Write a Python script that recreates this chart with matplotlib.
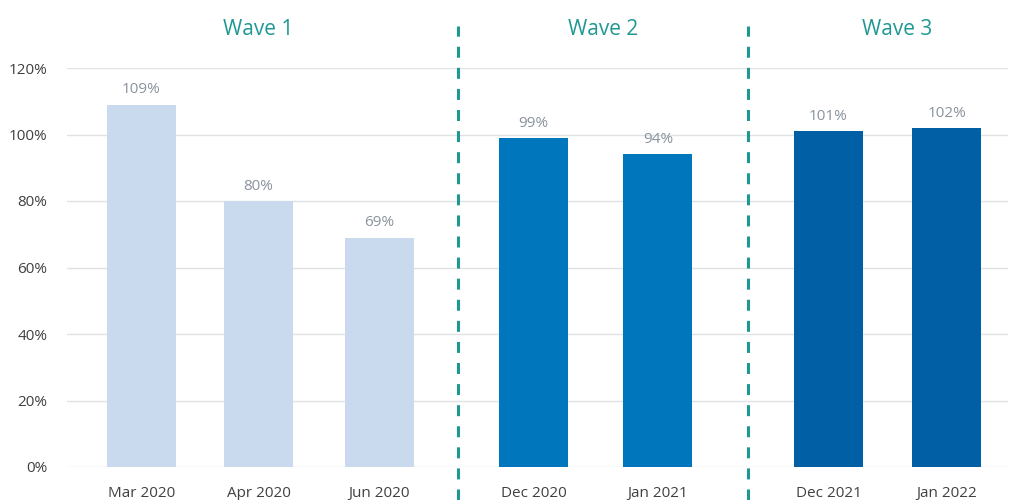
import matplotlib
matplotlib.use("Agg")
import matplotlib.pyplot as plt

# Share of pre-pandemic level, by survey month
categories = ["Mar 2020", "Apr 2020", "Jun 2020", "Dec 2020", "Jan 2021", "Dec 2021", "Jan 2022"]
values = [109, 80, 69, 99, 94, 101, 102]
wave_of_bar = [1, 1, 1, 2, 2, 3, 3]
wave_labels = ["Wave 1", "Wave 2", "Wave 3"]
y_ticks = [0, 20, 40, 60, 80, 100, 120]

wave_colors = {1: "#c9d9ee", 2: "#0077bd", 3: "#005fa5"}
teal = "#1f9893"

plt.rcParams["font.family"] = ["Open Sans", "DejaVu Sans"]

fig = plt.figure(figsize=(10.11, 5.0), dpi=100)
ax = fig.add_axes([67 / 1011, 1 - 467 / 500, (1008 - 67) / 1011, (467 - 68) / 500])

# horizontal layout (pixel-like units across the axis)
xpos = [141.5, 258.5, 379.5, 533.5, 658.0, 828.5, 947.0]
bar_w = 69
dividers = [458, 748]
wave_centers = [258, 603, 897]

ax.set_xlim(67, 1008)
ax.set_ylim(0, 120)

for y in y_ticks:
    ax.axhline(y, color="#dfe1e4", lw=1.0, zorder=0)

bars = ax.bar(xpos, values, width=bar_w,
              color=[wave_colors[w] for w in wave_of_bar], zorder=2)

for x, v in zip(xpos, values):
    ax.text(x, v + 2.2, f"{v}%", ha="center", va="bottom",
            fontsize=11, color="#8a939e")

for d in dividers:
    ax.plot([d, d], [-10, 132.5], color=teal, lw=2.2, ls=(0, (3.6, 3.3)),
            clip_on=False, zorder=3)

for cx, lab in zip(wave_centers, wave_labels):
    ax.text(cx, 131.5, lab, ha="center", va="center", fontsize=15,
            color=teal, clip_on=False)

ax.set_yticks(y_ticks)
ax.set_yticklabels([f"{t}%" for t in y_ticks], fontsize=11, color="#404040")
ax.set_xticks(xpos)
ax.set_xticklabels(categories, fontsize=11, color="#404040")
ax.tick_params(axis="both", length=0)
ax.tick_params(axis="y", pad=14)
ax.tick_params(axis="x", pad=14)

for s in ax.spines.values():
    s.set_visible(False)

fig.savefig("out.png", dpi=100, facecolor="white")
